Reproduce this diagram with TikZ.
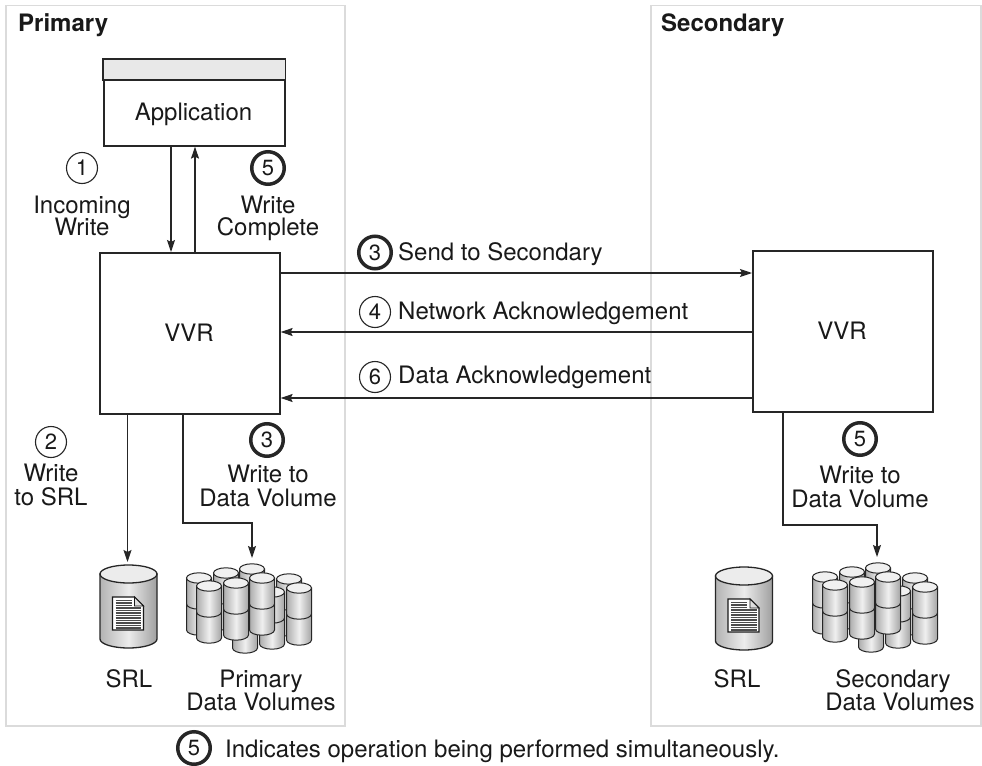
\documentclass[tikz,border=0pt]{standalone}
\usepackage{fontspec}
\setmainfont{TeX Gyre Heros}
\usetikzlibrary{arrows.meta}
\newcommand\dvcyl[2]{%
 \begin{scope}[shift={(#1,#2)}]
  \path[draw=black!85, line width=1bp, left color=gray!65, right color=gray!72, middle color=gray!12] (-12.5,0) -- (-12.5,52) arc[start angle=180, end angle=0, x radius=12.5, y radius=5.2] -- (12.5,0) -- cycle;
  \draw[black!85, line width=1bp] (-12.5,26) arc[start angle=180, end angle=0, x radius=12.5, y radius=5.2];
  \draw[black!85, line width=1bp, fill=gray!12] (0,0) ellipse[x radius=12.5, y radius=5.2];
 \end{scope}}
\newcommand\dvstack{%
 \dvcyl{199}{578}\dvcyl{226}{573}\dvcyl{252}{569}\dvcyl{289}{579}%
 \dvcyl{245}{596}\dvcyl{272}{592}%
 \dvcyl{209}{586}\dvcyl{236}{583}\dvcyl{262}{578}\dvcyl{299}{588}}
\newcommand\srlcyl[2]{%
 \begin{scope}[shift={(#1,#2)}]
  \path[draw=black!85, line width=1.3bp, left color=gray!60, right color=gray!75, middle color=gray!15] (-28.5,0) -- (-28.5,65) arc[start angle=180,end angle=0,x radius=28.5,y radius=9] -- (28.5,0) -- cycle;
  \draw[black!85, line width=1.3bp, fill=gray!15] (0,0) ellipse[x radius=28.5, y radius=9];
  \draw[black!90, line width=1.2bp, fill=white] (-16,23) -- (6,23) -- (15,32) -- (15,56) -- (-16,56) -- cycle;
  \foreach \yy in {26.5,29,31.5} {\draw[black!70, line width=1.1bp] (-13,\yy) -- (3,\yy);}
  \foreach \yy in {34,36.5,...,54} {\draw[black!70, line width=1.1bp] (-13,\yy) -- (12.5,\yy);}
  \draw[black!90, line width=0.9bp, fill=gray!25] (6,23) -- (6,32) -- (15,32) -- cycle;
 \end{scope}}
\begin{document}
\begin{tikzpicture}[x=1bp, y=-1bp,
 every node/.style={font=\fontsize{24bp}{23bp}\selectfont, inner sep=0pt, text=black!90},
 container/.style={draw=black!14, line width=1.5bp},
 blk/.style={draw=black!85, line width=1.6bp, fill=white},
 arr/.style={draw=black!85, line width=1.2bp, -{Stealth[length=12bp,width=8bp,inset=2bp]}},
 num/.style={circle, draw=black!85, line width=1.1bp, minimum size=31bp, inner sep=0pt, font=\fontsize{22bp}{22bp}\selectfont},
 bnum/.style={num, line width=3.5bp, minimum size=32.5bp},
 txt/.style={anchor=base},
 hd/.style={anchor=base west, font=\fontsize{24bp}{24bp}\selectfont\bfseries},
]
\useasboundingbox[fill=white] (0,0) rectangle (982,766);

% containers
\node[container, anchor=north west, minimum width=339bp, minimum height=720bp] (primbox) at (5,5) {};
\node[container, anchor=north west, minimum width=330bp, minimum height=720bp] (secbox) at (650,5) {};
\node[hd] (primlbl) at (18,32) {Primary};
\node[hd] (seclbl) at (661,32) {Secondary};

% application
\node[blk, anchor=north west, minimum width=181bp, minimum height=86bp] (app) at (103,59) {};
\draw[draw=black!85, line width=1.6bp, fill=gray!18] (app.north west) rectangle ([yshift=-21bp]app.north east);
\node[txt] (apptxt) at (193.5,120) {Application};

% VVR boxes
\node[blk, anchor=north west, minimum width=180bp, minimum height=161bp] (pvvr) at (99,252) {};
\node[txt] (pvvrtxt) at (189,341) {VVR};
\node[blk, anchor=north west, minimum width=180bp, minimum height=161bp] (svvr) at (752,250) {};
\node[txt] (svvrtxt) at (842,339) {VVR};

% storage
\srlcyl{128.5}{574}
\dvstack
\begin{scope}[shift={(626,-1)}]
 \dvstack
\end{scope}
\srlcyl{744}{576}

\coordinate (srlP) at (127.5,562);
\coordinate (bendP) at (183,523);
\coordinate (dvP) at (252,558);
\coordinate (bendS) at (783,525);
\coordinate (dvS) at (877,557);
\coordinate (xdn) at (171,0);
\coordinate (xup) at (195,0);
\coordinate (ysend) at (0,273);
\coordinate (ynet) at (0,332);
\coordinate (ydat) at (0,398);

% connectors
\draw[arr] (app.south -| xdn) -- (pvvr.north -| xdn);
\draw[arr] (pvvr.north -| xup) -- (app.south -| xup);
\draw[arr] (pvvr.east |- ysend) -- (svvr.west |- ysend);
\draw[arr] (svvr.west |- ynet) -- (pvvr.east |- ynet);
\draw[arr] (svvr.west |- ydat) -- (pvvr.east |- ydat);
\draw[arr] (pvvr.south -| srlP) -- (srlP);
\draw[arr] (pvvr.south -| bendP) -- (bendP) -| (dvP);
\draw[arr] (svvr.south -| bendS) -- (bendS) -| (dvS);

% labels
\node[num] (n1) at (82,168) {1};
\node[txt] (l1a) at (82,213) {Incoming};
\node[txt] (l1b) at (82,235) {Write};
\node[bnum] (n5a) at (268,168) {5};
\node[txt] (l5a) at (268,213) {Write};
\node[txt] (l5b) at (268,235) {Complete};
\node[num] (n2) at (51,442) {2};
\node[txt] (l2a) at (51,481) {Write};
\node[txt] (l2b) at (51,505) {to SRL};
\node[bnum] (n3a) at (267,440) {3};
\node[txt] (l3a) at (268,482) {Write to};
\node[txt] (l3b) at (268,506) {Data Volume};
\node[bnum] (n5b) at (860,439) {5};
\node[txt] (l5c) at (860,483) {Write to};
\node[txt] (l5d) at (860,507) {Data Volume};
\node[bnum] (n3b) at (375,252.5) {3};
\node[anchor=base west] (l3c) at (398,260) {Send to Secondary};
\node[num] (n4) at (375,312) {4};
\node[anchor=base west] (l4) at (398,319) {Network Acknowledgement};
\node[num] (n6) at (375,377) {6};
\node[anchor=base west] (l6) at (398,383) {Data Acknowledgement};

\node[txt] (srlPt) at (129,687) {SRL};
\node[txt] (pdv1) at (261,687) {Primary};
\node[txt] (pdv2) at (261,710) {Data Volumes};
\node[txt] (srlSt) at (737,687) {SRL};
\node[txt] (sdv1) at (893,687) {Secondary};
\node[txt] (sdv2) at (900,710) {Data Volumes};

\node[bnum] (nf) at (194,748) {5};
\node[anchor=base west] (foot) at (225,757) {Indicates operation being performed simultaneously.};
\end{tikzpicture}
\end{document}
